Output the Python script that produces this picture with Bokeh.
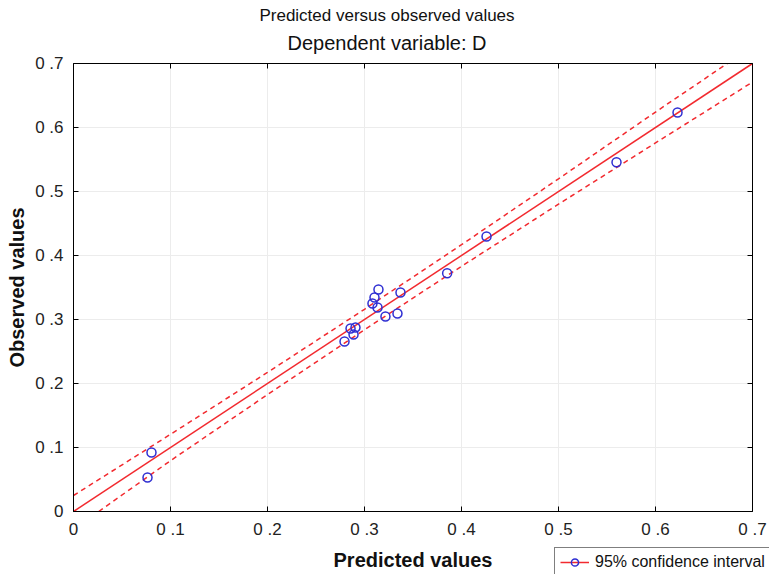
from bokeh.plotting import figure
from bokeh.models import Range1d, FixedTicker, LinearAxis, Legend, LegendItem, Label, Grid
from bokeh.embed import file_html
from bokeh.resources import INLINE

# ---- data ----
predicted = [0.0763, 0.0804, 0.2794, 0.2856, 0.2907, 0.2887, 0.3082, 0.3103, 0.3144,
             0.3134, 0.3216, 0.3340, 0.3371, 0.3852, 0.4258, 0.5598, 0.6227]
observed = [0.0531, 0.0922, 0.2656, 0.2859, 0.2875, 0.2766, 0.3250, 0.3344, 0.3469,
            0.3188, 0.3047, 0.3094, 0.3422, 0.3724, 0.4297, 0.5458, 0.6234]

fit_x = [0.0, 0.7]
fit_y = [0.0, 0.7]

upper_x = [0.0, 0.1, 0.2, 0.3, 0.4, 0.5, 0.6, 0.674]
upper_y = [0.025, 0.1206, 0.2173, 0.316, 0.4169, 0.5198, 0.6241, 0.7]
lower_x = [0.026, 0.1, 0.2, 0.3, 0.4, 0.5, 0.6, 0.7]
lower_y = [0.0, 0.0794, 0.1827, 0.284, 0.3831, 0.4802, 0.5759, 0.671]

ticks = [0.0, 0.1, 0.2, 0.3, 0.4, 0.5, 0.6, 0.7]
tick_labels = ["0", "0 .1", "0 .2", "0 .3", "0 .4", "0 .5", "0 .6", "0 .7"]
grid_ticks = [0.1, 0.2, 0.3, 0.4, 0.5, 0.6]

title_1 = "Predicted versus observed values"
title_2 = "Dependent variable: D"
x_label = "Predicted values"
y_label = "Observed values"
legend_label = "95% confidence interval"

FONT = "Liberation Sans"
RED = "#f22a2f"
BLUE = "#2e2ed2"
LO, HI = 0.0, 0.7

# layout constants (pixels): box from x=73..752, y=63..511 in a 769x574 canvas
W, H = 769, 574
X0, X1, Y0, Y1 = 73, 752, 511, 63
sx = (X1 - X0) / (HI - LO)
sy = (Y0 - Y1) / (HI - LO)

p = figure(width=W, height=H, output_backend="svg", toolbar_location=None,
           x_axis_location=None, y_axis_location=None, title=None,
           x_range=Range1d(LO - X0 / sx, HI + (W - X1) / sx),
           y_range=Range1d(LO - (H - Y0) / sy, HI + Y1 / sy),
           min_border=0, min_border_left=0, min_border_right=0,
           min_border_top=0, min_border_bottom=0)
p.outline_line_color = None
p.background_fill_color = "white"
p.border_fill_color = "white"
for r in list(p.center):
    if isinstance(r, Grid):
        r.visible = False

overrides = {t: l for t, l in zip(ticks, tick_labels)}


def make_axis(fixed, show_labels, label=None):
    ax = LinearAxis(ticker=FixedTicker(ticks=ticks), fixed_location=fixed, bounds=(LO, HI),
                    major_tick_in=5, major_tick_out=0, minor_tick_line_color=None,
                    axis_line_color="black", axis_line_width=1,
                    major_tick_line_color="black")
    if show_labels:
        ax.major_label_overrides = overrides
        ax.major_label_text_font = FONT
        ax.major_label_text_font_size = "17px"
        ax.major_label_text_color = "#222222"
        ax.axis_label = label
        ax.axis_label_text_font = FONT
        ax.axis_label_text_font_size = "20px"
        ax.axis_label_text_font_style = "bold"
        ax.axis_label_text_color = "#111111"
    else:
        ax.major_label_text_color = None
    return ax


xb = make_axis(LO, True, x_label)
xb.major_label_standoff = 8
xb.axis_label_standoff = 7
yl = make_axis(LO, True, y_label)
yl.major_label_standoff = 10
yl.axis_label_standoff = 4
xt = make_axis(HI, False)
yr = make_axis(HI, False)
p.add_layout(xb, "below")
p.add_layout(yl, "left")
p.add_layout(xt, "above")
p.add_layout(yr, "right")

# light grid lines at the tick positions, inside the box
p.segment(x0=grid_ticks, y0=[LO] * len(grid_ticks), x1=grid_ticks, y1=[HI] * len(grid_ticks),
          line_color="#ececec", line_width=1)
p.segment(x0=[LO] * len(grid_ticks), y0=grid_ticks, x1=[HI] * len(grid_ticks), y1=grid_ticks,
          line_color="#ececec", line_width=1)

up = p.line(upper_x, upper_y, line_color=RED, line_width=1.5, line_dash="5 4")
lo = p.line(lower_x, lower_y, line_color=RED, line_width=1.5, line_dash="5 4")
fit = p.line(fit_x, fit_y, line_color=RED, line_width=1.5)
pts = p.scatter(predicted, observed, marker="circle", size=9, fill_color=None,
                line_color=BLUE, line_width=1.5)

# titles, centred on the page
tx = LO + (386.5 - X0) / sx
p.add_layout(Label(x=tx, y=LO + (Y0 - 15) / sy, text=title_1, text_align="center",
                   text_baseline="middle", text_font=FONT, text_font_size="17px",
                   text_color="#111111"))
p.add_layout(Label(x=tx, y=LO + (Y0 - 42) / sy, text=title_2, text_align="center",
                   text_baseline="middle", text_font=FONT, text_font_size="20px",
                   text_color="#111111"))

legend = Legend(items=[LegendItem(label=legend_label, renderers=[fit, pts])],
                location=(554, -3), border_line_color="black", border_line_width=1,
                label_text_font=FONT, label_text_font_size="16px", label_text_color="#111111",
                padding=5, margin=0, spacing=0, label_standoff=6,
                glyph_width=29, glyph_height=18, label_height=18,
                background_fill_color="white", background_fill_alpha=1)
p.add_layout(legend, "center")

open("out.html", "w").write(file_html(p, INLINE))
